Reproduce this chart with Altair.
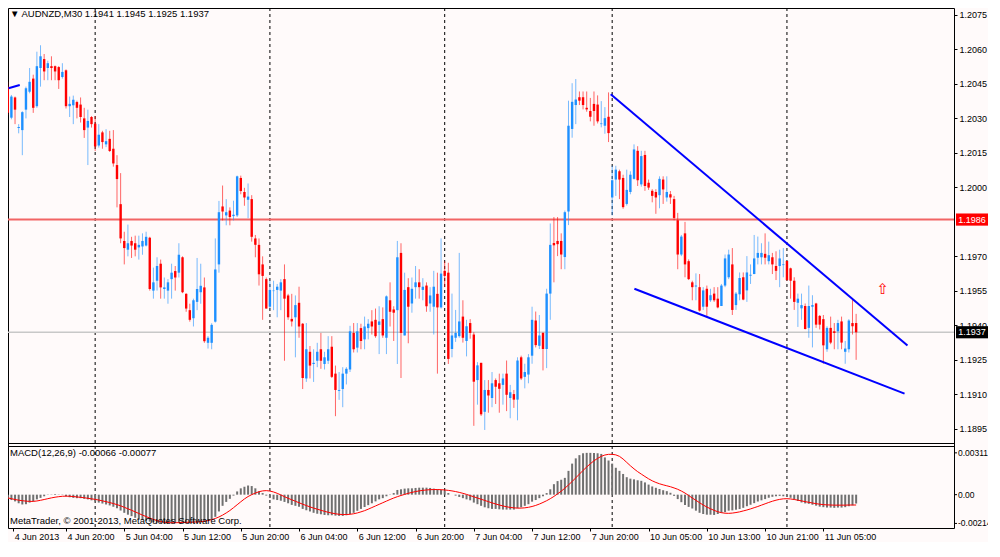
import altair as alt
import pandas as pd

# ---------------- data ----------------
opens = [
    1.20438, 1.20303, 1.20391, 1.20258, 1.20249, 1.20338, 1.20416, 1.20473, 1.20353, 1.20519,
    1.20558, 1.20519, 1.20527, 1.20527, 1.20523, 1.20480, 1.20509, 1.20353, 1.20357, 1.20371,
    1.20360, 1.20300, 1.20260, 1.20306, 1.20277, 1.20182, 1.20239, 1.20187, 1.20211, 1.20168,
    1.20097, 1.19927, 1.19767, 1.19729, 1.19767, 1.19757, 1.19739, 1.19743, 1.19747, 1.19781,
    1.19551, 1.19594, 1.19668, 1.19558, 1.19551, 1.19601, 1.19636, 1.19629, 1.19696, 1.19537,
    1.19466, 1.19431, 1.19502, 1.19544, 1.19565, 1.19324, 1.19324, 1.19416, 1.19665, 1.19917,
    1.19878, 1.19899, 1.19875, 1.19878, 1.20041, 1.19980, 1.19946, 1.19949, 1.19778, 1.19750,
    1.19665, 1.19601, 1.19481, 1.19549, 1.19554, 1.19551, 1.19601, 1.19530, 1.19428, 1.19435,
    1.19498, 1.19407, 1.19169, 1.19285, 1.19232, 1.19246, 1.19296, 1.19232, 1.19246, 1.19307,
    1.19190, 1.19115, 1.19123, 1.19190, 1.19208, 1.19367, 1.19303, 1.19388, 1.19339, 1.19388,
    1.19417, 1.19424, 1.19402, 1.19427, 1.19346, 1.19509, 1.19469, 1.19466, 1.19715, 1.19356,
    1.19566, 1.19495, 1.19566, 1.19587, 1.19554, 1.19573, 1.19495, 1.19481, 1.19537, 1.19478,
    1.19637, 1.19629, 1.19297, 1.19346, 1.19353, 1.19438, 1.19332, 1.19410, 1.19360, 1.19162,
    1.19237, 1.19024, 1.19119, 1.19084, 1.19162, 1.19148, 1.19141, 1.19190, 1.19084, 1.19101,
    1.19077, 1.19261, 1.19176, 1.19186, 1.19268, 1.19421, 1.19311, 1.19367, 1.19297, 1.19538,
    1.19758, 1.19767, 1.19767, 1.19697, 1.19895, 1.20254, 1.20358, 1.20392, 1.20392, 1.20346,
    1.20332, 1.20363, 1.20360, 1.20275, 1.20268, 1.20307, 1.19956, 1.20034, 1.20070, 1.20041,
    1.19928, 1.19980, 1.20037, 1.20159, 1.20013, 1.20141, 1.20020, 1.19985, 1.19980, 1.19966,
    1.20034, 1.19956, 1.19970, 1.19949, 1.19857, 1.19708, 1.19800, 1.19679, 1.19587, 1.19569,
    1.19566, 1.19481, 1.19559, 1.19509, 1.19538, 1.19516, 1.19484, 1.19573, 1.19609, 1.19665,
    1.19488, 1.19535, 1.19609, 1.19552, 1.19616, 1.19623, 1.19694, 1.19696, 1.19711, 1.19679,
    1.19696, 1.19658, 1.19658, 1.19662, 1.19680, 1.19648, 1.19594, 1.19498, 1.19474, 1.19484,
    1.19389, 1.19481, 1.19495, 1.19441, 1.19427, 1.19296, 1.19389, 1.19374, 1.19374, 1.19417,
    1.19285, 1.19296, 1.19410, 1.19410,
]
highs = [
    1.20459, 1.20402, 1.20395, 1.20275, 1.20331, 1.20438, 1.20519, 1.20490, 1.20590, 1.20618,
    1.20580, 1.20551, 1.20570, 1.20530, 1.20527, 1.20540, 1.20513, 1.20395, 1.20399, 1.20377,
    1.20391, 1.20346, 1.20338, 1.20310, 1.20310, 1.20275, 1.20246, 1.20253, 1.20246, 1.20249,
    1.20140, 1.20062, 1.19807, 1.19838, 1.19785, 1.19790, 1.19790, 1.19800, 1.19807, 1.19785,
    1.19651, 1.19696, 1.19686, 1.19608, 1.19601, 1.19668, 1.19658, 1.19757, 1.19700, 1.19540,
    1.19494, 1.19516, 1.19693, 1.19668, 1.19608, 1.19353, 1.19409, 1.19778, 1.19941, 1.20008,
    1.19949, 1.19913, 1.19942, 1.20051, 1.20051, 1.19998, 1.20017, 1.19966, 1.19793, 1.19778,
    1.19700, 1.19608, 1.19594, 1.19594, 1.19580, 1.19601, 1.19665, 1.19537, 1.19537, 1.19530,
    1.19568, 1.19410, 1.19410, 1.19310, 1.19296, 1.19324, 1.19367, 1.19285, 1.19353, 1.19353,
    1.19225, 1.19197, 1.19218, 1.19218, 1.19398, 1.19410, 1.19410, 1.19407, 1.19438, 1.19427,
    1.19466, 1.19473, 1.19483, 1.19478, 1.19530, 1.19587, 1.19483, 1.19767, 1.19757, 1.19629,
    1.19605, 1.19608, 1.19658, 1.19644, 1.19605, 1.19587, 1.19566, 1.19637, 1.19629, 1.19778,
    1.19679, 1.19672, 1.19538, 1.19467, 1.19715, 1.19509, 1.19424, 1.19427, 1.19370, 1.19240,
    1.19237, 1.19162, 1.19162, 1.19197, 1.19169, 1.19190, 1.19190, 1.19247, 1.19141, 1.19119,
    1.19261, 1.19268, 1.19233, 1.19275, 1.19481, 1.19460, 1.19445, 1.19370, 1.19559, 1.19843,
    1.19871, 1.19871, 1.19800, 1.19899, 1.20377, 1.20453, 1.20471, 1.20417, 1.20417, 1.20417,
    1.20389, 1.20417, 1.20400, 1.20375, 1.20349, 1.20413, 1.20094, 1.20094, 1.20077, 1.20055,
    1.20077, 1.20070, 1.20187, 1.20179, 1.20159, 1.20159, 1.20034, 1.19992, 1.19992, 1.20048,
    1.20048, 1.20048, 1.19984, 1.19963, 1.19889, 1.19793, 1.19850, 1.19687, 1.19594, 1.19626,
    1.19623, 1.19566, 1.19573, 1.19559, 1.19566, 1.19566, 1.19580, 1.19708, 1.19729, 1.19736,
    1.19545, 1.19630, 1.19630, 1.19701, 1.19665, 1.19793, 1.19786, 1.19757, 1.19800, 1.19764,
    1.19715, 1.19722, 1.19729, 1.19736, 1.19680, 1.19651, 1.19609, 1.19538, 1.19538, 1.19495,
    1.19573, 1.19531, 1.19498, 1.19445, 1.19445, 1.19396, 1.19438, 1.19410, 1.19424, 1.19438,
    1.19332, 1.19427, 1.19516, 1.19450,
]
lows = [
    1.20314, 1.20296, 1.20275, 1.20235, 1.20140, 1.20300, 1.20409, 1.20324, 1.20346, 1.20438,
    1.20466, 1.20466, 1.20466, 1.20466, 1.20428, 1.20473, 1.20343, 1.20306, 1.20275, 1.20300,
    1.20282, 1.20215, 1.20097, 1.20260, 1.20158, 1.20173, 1.20168, 1.20175, 1.20154, 1.20090,
    1.19913, 1.19757, 1.19665, 1.19700, 1.19693, 1.19700, 1.19686, 1.19707, 1.19743, 1.19551,
    1.19516, 1.19551, 1.19516, 1.19516, 1.19494, 1.19516, 1.19551, 1.19608, 1.19540, 1.19459,
    1.19416, 1.19395, 1.19466, 1.19494, 1.19324, 1.19299, 1.19296, 1.19412, 1.19629, 1.19856,
    1.19835, 1.19835, 1.19856, 1.19871, 1.19970, 1.19920, 1.19866, 1.19764, 1.19696, 1.19573,
    1.19424, 1.19473, 1.19473, 1.19466, 1.19435, 1.19466, 1.19246, 1.19424, 1.19395, 1.19261,
    1.19346, 1.19123, 1.19154, 1.19169, 1.19154, 1.19218, 1.19211, 1.19208, 1.19232, 1.19171,
    1.19005, 1.19076, 1.19044, 1.19143, 1.19197, 1.19282, 1.19282, 1.19296, 1.19296, 1.19339,
    1.19360, 1.19346, 1.19275, 1.19346, 1.19275, 1.19395, 1.19332, 1.19232, 1.19171, 1.19356,
    1.19322, 1.19455, 1.19516, 1.19516, 1.19509, 1.19459, 1.19459, 1.19360, 1.19190, 1.19473,
    1.19566, 1.19232, 1.19261, 1.19328, 1.19346, 1.19325, 1.19265, 1.19342, 1.18963, 1.19055,
    1.19006, 1.18945, 1.19020, 1.19044, 1.19058, 1.19020, 1.19055, 1.19027, 1.18996, 1.19041,
    1.18987, 1.19162, 1.19126, 1.19148, 1.19233, 1.19304, 1.19297, 1.19204, 1.19214, 1.19424,
    1.19587, 1.19701, 1.19644, 1.19644, 1.19836, 1.20216, 1.20275, 1.20358, 1.20339, 1.20329,
    1.20287, 1.20268, 1.20278, 1.20261, 1.20233, 1.20197, 1.19878, 1.19963, 1.19949, 1.19907,
    1.19921, 1.19970, 1.20034, 1.20006, 1.20003, 1.19985, 1.19989, 1.19935, 1.19885, 1.19909,
    1.19928, 1.19938, 1.19928, 1.19857, 1.19644, 1.19701, 1.19609, 1.19597, 1.19509, 1.19509,
    1.19460, 1.19467, 1.19438, 1.19502, 1.19502, 1.19474, 1.19484, 1.19566, 1.19601, 1.19445,
    1.19467, 1.19509, 1.19509, 1.19502, 1.19580, 1.19623, 1.19665, 1.19665, 1.19665, 1.19665,
    1.19623, 1.19597, 1.19566, 1.19609, 1.19594, 1.19516, 1.19467, 1.19393, 1.19424, 1.19382,
    1.19346, 1.19304, 1.19389, 1.19382, 1.19233, 1.19285, 1.19318, 1.19296, 1.19296, 1.19296,
    1.19233, 1.19282, 1.19360, 1.19250,
]
closes = [
    1.20324, 1.20395, 1.20338, 1.20262, 1.20327, 1.20431, 1.20459, 1.20346, 1.20527, 1.20570,
    1.20504, 1.20540, 1.20519, 1.20504, 1.20466, 1.20502, 1.20353, 1.20363, 1.20381, 1.20346,
    1.20306, 1.20249, 1.20289, 1.20275, 1.20178, 1.20229, 1.20197, 1.20201, 1.20158, 1.20104,
    1.20036, 1.19778, 1.19736, 1.19757, 1.19747, 1.19729, 1.19750, 1.19767, 1.19785, 1.19558,
    1.19587, 1.19658, 1.19565, 1.19565, 1.19587, 1.19629, 1.19608, 1.19707, 1.19544, 1.19473,
    1.19424, 1.19509, 1.19558, 1.19572, 1.19331, 1.19346, 1.19402, 1.19643, 1.19892, 1.19895,
    1.19892, 1.19871, 1.19881, 1.20048, 1.19984, 1.19956, 1.19960, 1.19785, 1.19750, 1.19622,
    1.19615, 1.19473, 1.19554, 1.19551, 1.19568, 1.19587, 1.19516, 1.19435, 1.19417, 1.19488,
    1.19395, 1.19171, 1.19296, 1.19225, 1.19237, 1.19285, 1.19246, 1.19261, 1.19296, 1.19176,
    1.19119, 1.19119, 1.19190, 1.19211, 1.19374, 1.19296, 1.19374, 1.19332, 1.19395, 1.19407,
    1.19395, 1.19353, 1.19417, 1.19356, 1.19526, 1.19459, 1.19455, 1.19696, 1.19367, 1.19554,
    1.19481, 1.19559, 1.19587, 1.19566, 1.19568, 1.19483, 1.19530, 1.19568, 1.19478, 1.19625,
    1.19615, 1.19254, 1.19356, 1.19367, 1.19417, 1.19346, 1.19396, 1.19367, 1.19155, 1.19226,
    1.19013, 1.19119, 1.19095, 1.19148, 1.19133, 1.19124, 1.19169, 1.19098, 1.19109, 1.19077,
    1.19247, 1.19169, 1.19197, 1.19261, 1.19424, 1.19314, 1.19356, 1.19297, 1.19538, 1.19750,
    1.19748, 1.19753, 1.19708, 1.19892, 1.20268, 1.20372, 1.20382, 1.20377, 1.20358, 1.20339,
    1.20307, 1.20332, 1.20287, 1.20278, 1.20301, 1.20236, 1.20031, 1.20077, 1.20034, 1.19914,
    1.19989, 1.20055, 1.20165, 1.20031, 1.20136, 1.20006, 1.19999, 1.19963, 1.19956, 1.20037,
    1.19991, 1.19980, 1.19956, 1.19867, 1.19708, 1.19786, 1.19665, 1.19601, 1.19566, 1.19573,
    1.19464, 1.19552, 1.19481, 1.19531, 1.19509, 1.19478, 1.19573, 1.19691, 1.19708, 1.19467,
    1.19538, 1.19606, 1.19512, 1.19630, 1.19620, 1.19691, 1.19715, 1.19715, 1.19694, 1.19705,
    1.19665, 1.19637, 1.19691, 1.19665, 1.19597, 1.19594, 1.19502, 1.19516, 1.19488, 1.19384,
    1.19484, 1.19488, 1.19403, 1.19403, 1.19313, 1.19389, 1.19325, 1.19367, 1.19410, 1.19325,
    1.19299, 1.19421, 1.19396, 1.19370,
]
# MACD(12,26,9): main histogram and signal line, in units of 0.00001
macd_main_e5 = [
    -31, -40, -50, -64, -73, -71, -59, -50, -35, -24,
    -12, -2, 2, 5, 2, -2, -12, -19, -24, -26,
    -26, -31, -35, -42, -50, -59, -66, -73, -80, -90,
    -101, -118, -135, -149, -160, -172, -182, -189, -194, -201,
    -205, -208, -210, -212, -212, -212, -210, -208, -210, -212,
    -214, -212, -208, -201, -201, -196, -189, -165, -125, -83,
    -54, -31, -7, 24, 47, 59, 68, 64, 47, 24,
    12, -7, -24, -35, -40, -45, -54, -64, -76, -83,
    -90, -106, -116, -125, -135, -142, -146, -151, -153, -153,
    -156, -158, -158, -153, -144, -135, -120, -106, -92, -78,
    -64, -50, -35, -26, -12, -2, 12, 35, 40, 45,
    47, 47, 50, 52, 52, 52, 50, 45, 40, 35,
    31, 12, 0, -7, -17, -26, -35, -42, -59, -71,
    -83, -94, -101, -106, -106, -109, -111, -111, -111, -111,
    -101, -94, -83, -71, -52, -40, -26, -12, 12, 40,
    78, 101, 111, 125, 177, 231, 270, 294, 308, 311,
    311, 310, 308, 303, 277, 254, 231, 200, 177, 154,
    130, 119, 114, 107, 103, 91, 75, 61, 51, 42,
    33, 26, 14, -9, -33, -56, -77, -91, -103, -119,
    -135, -144, -149, -149, -151, -144, -135, -130, -119, -117,
    -112, -107, -98, -86, -75, -63, -51, -42, -33, -23,
    -16, -12, -9, -12, -16, -23, -35, -47, -58, -65,
    -68, -75, -82, -89, -93, -96, -96, -98, -96, -96,
    -93, -86, -80, -66,
]
macd_signal_e5 = [
    -24, -30, -36, -41, -45, -48, -50, -50, -47, -42,
    -36, -30, -24, -19, -15, -12, -11, -12, -14, -17,
    -20, -23, -27, -31, -35, -40, -46, -52, -59, -66,
    -74, -83, -94, -105, -116, -128, -140, -152, -163, -174,
    -184, -193, -200, -205, -208, -209, -209, -208, -207, -206,
    -205, -204, -203, -201, -198, -193, -186, -177, -166, -152,
    -136, -118, -97, -75, -53, -32, -14, 0, 12, 22,
    28, 30, 27, 20, 10, -2, -15, -27, -38, -49,
    -60, -71, -81, -91, -100, -108, -116, -124, -131, -137,
    -142, -146, -148, -148, -146, -142, -136, -128, -119, -108,
    -96, -84, -72, -60, -48, -36, -25, -15, -6, 2,
    10, 17, 23, 28, 32, 35, 37, 38, 38, 37,
    35, 32, 28, 23, 17, 10, 2, -7, -16, -25,
    -34, -43, -52, -61, -69, -77, -84, -90, -95, -98,
    -100, -100, -98, -94, -88, -80, -70, -58, -45, -30,
    -13, 6, 26, 48, 72, 98, 125, 153, 180, 206,
    230, 252, 270, 285, 295, 300, 300, 296, 285, 265,
    240, 215, 192, 171, 153, 135, 118, 103, 91, 81,
    73, 66, 59, 50, 40, 27, 12, -6, -25, -42,
    -60, -77, -92, -105, -117, -127, -134, -138, -139, -137,
    -133, -128, -121, -114, -106, -97, -88, -78, -68, -58,
    -49, -41, -35, -31, -30, -32, -36, -41, -46, -52,
    -57, -62, -67, -71, -74, -76, -77, -78, -78, -78,
    -78, -77, -77, -77,
]
time_labels = ["4 Jun 2013", "4 Jun 20:00", "5 Jun 04:00", "5 Jun 12:00", "5 Jun 20:00",
               "6 Jun 04:00", "6 Jun 12:00", "6 Jun 20:00", "7 Jun 04:00", "7 Jun 12:00",
               "7 Jun 20:00", "10 Jun 05:00", "10 Jun 13:00", "10 Jun 21:00", "11 Jun 05:00"]
time_label_bars = [1.5, 16, 32, 48, 64, 80, 96, 112, 128, 144, 160, 176, 192, 208, 224]
day_separator_bars = [24, 72, 120, 166, 214]
price_ticks = [1.1895, 1.1910, 1.1925, 1.1940, 1.1955, 1.1970, 1.2000,
               1.2015, 1.2030, 1.2045, 1.2060, 1.2075]
macd_ticks = [0.00311, 0.0, -0.00214]
macd_tick_text = ["0.00311", "0.00", "-0.00214"]
level_price = 1.1986
bid_price = 1.1937
trend_bar = [165.6, 247.1, 172.1, 246.3, 0.2, 3.3]
trend_price = [1.20405, 1.19312, 1.19559, 1.19103, 1.20431, 1.20445]
trend_id = ["upper", "upper", "lower", "lower", "old", "old"]
arrow_bar = [240.3]
arrow_price = [1.19560]
header_text = "\u25BC AUDNZD,M30  1.1941 1.1945 1.1925 1.1937"
macd_text = "MACD(12,26,9) -0.00066 -0.00077"
copyright_text = "MetaTrader, \u00A9 2001-2013, MetaQuotes Software Corp."

# ---------------- tables ----------------
n = len(opens)
df = pd.DataFrame({"i": list(range(n)), "o": opens, "h": highs, "l": lows, "c": closes})
df["dir"] = ["up" if c >= o else "down" for o, c in zip(opens, closes)]
mdf = pd.DataFrame({"i": list(range(len(macd_main_e5))),
                    "m": [v / 1e5 for v in macd_main_e5],
                    "s": [v / 1e5 for v in macd_signal_e5]})
sep_df = pd.DataFrame({"i": day_separator_bars})
trend_df = pd.DataFrame({"i": trend_bar, "y": trend_price, "id": trend_id})
box_df = pd.DataFrame({"p": [level_price, bid_price], "t": ["1.1986", "1.1937"],
                       "fill": ["#ff0000", "#000000"]})
mtick_df = pd.DataFrame({"v": macd_ticks, "t": macd_tick_text})
arrow_df = pd.DataFrame({"i": arrow_bar, "y": arrow_price, "t": ["\u21E7"]})

# ---------------- geometry / scales ----------------
W = 946            # plot width (both panels)
PX_PER_BAR = 3.68
H_MAIN = 436       # price panel height
GAP = 2
H_MACD = 82        # MACD panel height
H = H_MAIN + GAP + H_MACD
RIGHT = 34
FONT = "Liberation Sans"

xs = alt.Scale(domain=[1.44, 1.44 + W / PX_PER_BAR], nice=False, zero=False)


def ys():
    return alt.Scale(domain=[1.18884, 1.20780], range=[H_MAIN, 0], nice=False, zero=False)


def ms():
    return alt.Scale(domain=[-0.00248, 0.00362], range=[H, H_MAIN + GAP], nice=False, zero=False)


cs = alt.Scale(domain=["up", "down"], range=["#1e90ff", "#ff0000"])

y_axis = alt.Axis(orient="right", values=price_ticks, format=".4f", title=None, grid=False,
                  domain=False, tickSize=3, tickColor="black", labelColor="black",
                  labelFont=FONT, labelFontSize=9, labelPadding=2, labelOverlap=False)
label_array = "[" + ",".join("'" + t + "'" for t in time_labels) + "]"
x_axis = alt.Axis(orient="bottom", values=time_label_bars, title=None, grid=False, domain=False,
                  tickSize=3, tickColor="black", labelColor="black", labelFont=FONT,
                  labelFontSize=9, labelAlign="left", labelBaseline="top", labelPadding=1,
                  labelOffset=1, labelOverlap=False, labelFlush=False, labelBound=False,
                  labelExpr=label_array + "[round(datum.value / 16)]")

X = alt.X("i:Q", scale=xs, axis=x_axis)

# ---------------- layers ----------------
seps = alt.Chart(sep_df).mark_rule(color="black", strokeWidth=1, strokeDash=[3, 3]).encode(x=X)
dividers = alt.Chart(pd.DataFrame({"k": [0, 1]})).mark_rule(color="black", strokeWidth=1).encode(
    x=alt.value(0), x2=alt.value(W),
    y=alt.Y("k:Q", scale=alt.Scale(domain=[0, 1], range=[H_MAIN - 0.5, H_MAIN + GAP + 0.5]),
            axis=None))
level_line = alt.Chart(box_df).transform_filter(alt.datum.t == "1.1986").mark_rule(
    color="#f26464", strokeWidth=2).encode(y=alt.Y("p:Q", scale=ys(), axis=None))
bid_line = alt.Chart(box_df).transform_filter(alt.datum.t == "1.1937").mark_rule(
    color="#c8c8c8", strokeWidth=1.5).encode(y=alt.Y("p:Q", scale=ys(), axis=None))
wicks = alt.Chart(df).mark_rule(strokeWidth=1, opacity=0.6, clip=True).encode(
    x=X, y=alt.Y("l:Q", scale=ys(), axis=None), y2="h:Q",
    color=alt.Color("dir:N", scale=cs, legend=None))
bodies = alt.Chart(df).mark_bar(size=2.4, clip=True).encode(
    x=X, y=alt.Y("o:Q", scale=ys(), axis=y_axis), y2="c:Q",
    color=alt.Color("dir:N", scale=cs, legend=None))
trends = alt.Chart(trend_df).mark_line(color="#0000ff", strokeWidth=2, clip=True).encode(
    x=X, y=alt.Y("y:Q", scale=ys(), axis=None), detail="id:N")
arrow = alt.Chart(arrow_df).mark_text(color="#ff0000", fontSize=15, font="DejaVu Sans").encode(
    x=X, y=alt.Y("y:Q", scale=ys(), axis=None), text="t:N")
boxes = alt.Chart(box_df).mark_point(shape="M-1,-0.38L1,-0.38L1,0.38L-1,0.38Z", filled=True,
                                     size=1024, opacity=1, strokeWidth=0).encode(
    x=alt.value(W + 18), y=alt.Y("p:Q", scale=ys(), axis=None),
    color=alt.Color("fill:N", scale=None))
box_text = alt.Chart(box_df).mark_text(color="white", fontSize=9, font=FONT, align="center",
                                       baseline="middle").encode(
    x=alt.value(W + 18), y=alt.Y("p:Q", scale=ys(), axis=None), text="t:N")
header = alt.Chart(pd.DataFrame({"t": [header_text]})).mark_text(
    align="left", baseline="middle", fontSize=9.5, font=FONT, color="black").encode(
    x=alt.value(2), y=alt.value(6), text="t:N")

hist = alt.Chart(mdf).mark_bar(size=2, color="#707070", clip=True).encode(
    x=X, y=alt.Y("m:Q", scale=ms(), axis=None), y2=alt.datum(0))
signal = alt.Chart(mdf).mark_line(color="#ff0000", strokeWidth=1, clip=True).encode(
    x=X, y=alt.Y("s:Q", scale=ms(), axis=None))
mtick_marks = alt.Chart(mtick_df).mark_rule(color="black", strokeWidth=1).encode(
    x=alt.value(W), x2=alt.value(W + 3), y=alt.Y("v:Q", scale=ms(), axis=None))
mtick_labels = alt.Chart(mtick_df).mark_text(align="left", baseline="middle", fontSize=8.5,
                                             font=FONT, color="black").encode(
    x=alt.value(W + 4), y=alt.Y("v:Q", scale=ms(), axis=None), text="t:N")
mtext = alt.Chart(pd.DataFrame({"t": [macd_text, copyright_text],
                                "yy": [H_MAIN + GAP + 7, H - 7]})).mark_text(
    align="left", baseline="middle", fontSize=9.5, font=FONT, color="black").encode(
    x=alt.value(2), y=alt.Y("yy:Q", scale=None), text="t:N")

chart = alt.layer(
    seps, level_line, bid_line, wicks, bodies, trends, arrow, header,
    hist, signal, dividers, boxes, box_text, mtick_marks, mtick_labels, mtext,
).resolve_scale(y="independent").properties(
    width=W, height=H,
    autosize=alt.AutoSizeParams(type="none"),
    padding={"left": 0, "top": 0, "right": RIGHT, "bottom": 14},
    background="#fffafa",
).configure_view(stroke="black", strokeWidth=1, fill="#fffafa")

chart.save("out.html", embed_options={"renderer": "svg", "actions": False})
